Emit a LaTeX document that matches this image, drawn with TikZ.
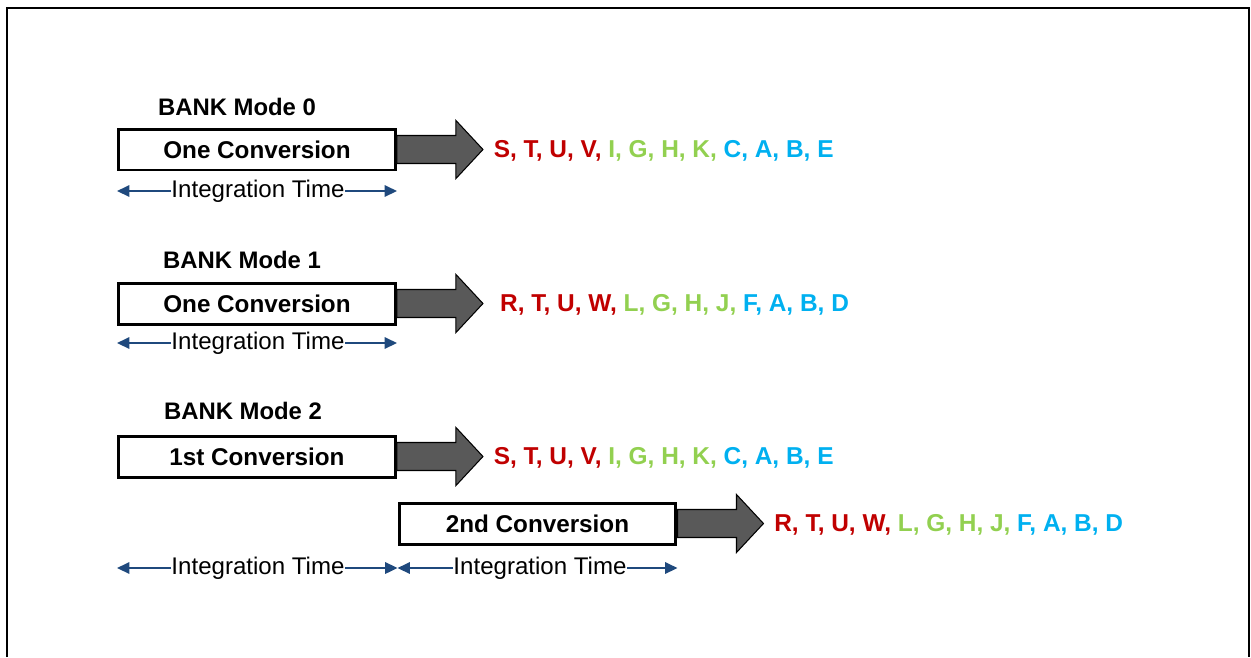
\documentclass[tikz,border=0pt]{standalone}
\usepackage{fontspec}
\setmainfont{Liberation Sans}
\usepackage{xcolor}
\usetikzlibrary{arrows.meta,positioning}
\definecolor{chred}{RGB}{192,0,0}
\definecolor{chgreen}{RGB}{146,208,80}
\definecolor{chblue}{RGB}{0,176,240}
\definecolor{arrowgray}{RGB}{89,89,89}
\definecolor{timeblue}{RGB}{31,73,125}

% block arrow leaving a conversion box, tip named #2
\newcommand{\convarrow}[2]{%
  \draw[bigarrow,shift={(#1.east)}] (0,-14) -- (59,-14) -- (59,-29)
    -- (86,0) coordinate (#2) -- (59,29) -- (59,14) -- (0,14) -- cycle;}

\begin{document}
\begin{tikzpicture}[x=0.02cm,y=-0.02cm,
  font=\fontsize{13.7}{16}\selectfont,
  convbox/.style={draw,line width=1.7pt,minimum width=5.54cm,minimum height=0.82cm,
    inner sep=0pt,font=\fontsize{13.8}{16}\selectfont\bfseries},
  bigarrow/.style={draw,fill=arrowgray,line width=0.6pt,line join=miter},
  timearrow/.style={-{Triangle[length=7pt,width=6.5pt]},timeblue,line width=1pt},
  timelabel/.style={inner sep=0pt},
  modelabel/.style={inner sep=0pt,font=\fontsize{13.6}{16}\selectfont\bfseries},
  chanlist/.style={inner sep=0pt,yshift=-1pt,font=\fontsize{13.9}{16}\selectfont\bfseries}]
  \useasboundingbox (0,0) rectangle (1251,657);
  \draw[line width=1.1pt] (7,657) -- (7,8) -- (1249,8) -- (1249,657);

  % mode 0
  \node[modelabel] (m0) at (237,107) {BANK Mode 0};
  \node[convbox] (b0) at (257,149.5) {One Conversion};
  \convarrow{b0}{t0}
  \node[chanlist,right=6pt of t0] (l0) {\textcolor{chred}{S, T, U, V,} \textcolor{chgreen}{I, G, H, K,} \textcolor{chblue}{C, A, B, E}};
  \node[timelabel] (it0) at (258,191) {Integration Time};
  \draw[timearrow] (it0.west) -- (it0.west -| b0.west);
  \draw[timearrow] (it0.east) -- (it0.east -| b0.east);

  % mode 1
  \node[modelabel] (m1) at (242,260) {BANK Mode 1};
  \node[convbox] (b1) at (257,303.5) {One Conversion};
  \convarrow{b1}{t1}
  \node[chanlist,right=9.6pt of t1] (l1) {\textcolor{chred}{R, T, U, W,} \textcolor{chgreen}{L, G, H, J,} \textcolor{chblue}{F, A, B, D}};
  \node[timelabel] (it1) at (258,343) {Integration Time};
  \draw[timearrow] (it1.west) -- (it1.west -| b1.west);
  \draw[timearrow] (it1.east) -- (it1.east -| b1.east);

  % mode 2
  \node[modelabel] (m2) at (243,411) {BANK Mode 2};
  \node[convbox] (b2) at (257,456.5) {1st Conversion};
  \convarrow{b2}{t2}
  \node[chanlist,right=6pt of t2] (l2) {\textcolor{chred}{S, T, U, V,} \textcolor{chgreen}{I, G, H, K,} \textcolor{chblue}{C, A, B, E}};
  \node[convbox] (b3) at (537.5,523.5) {2nd Conversion};
  \convarrow{b3}{t3}
  \node[chanlist,right=6pt of t3] (l3) {\textcolor{chred}{R, T, U, W,} \textcolor{chgreen}{L, G, H, J,} \textcolor{chblue}{F, A, B, D}};
  \node[timelabel] (it2) at (258,568) {Integration Time};
  \node[timelabel] (it3) at (540,568) {Integration Time};
  \draw[timearrow] (it2.west) -- (it2.west -| b2.west);
  \draw[timearrow] (it2.east) -- (it2.east -| b3.west);
  \draw[timearrow] (it3.west) -- (it3.west -| b3.west);
  \draw[timearrow] (it3.east) -- (it3.east -| b3.east);
\end{tikzpicture}
\end{document}
